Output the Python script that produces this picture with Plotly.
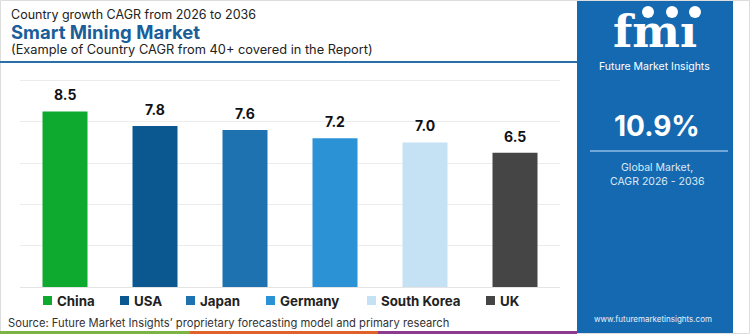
import plotly.graph_objects as go

# Country CAGR values (%), 2026-2036
countries = ["China", "USA", "Japan", "Germany", "South Korea", "UK"]
cagr = [8.5, 7.8, 7.6, 7.2, 7.0, 6.5]
bar_colors = ["#0daa2f", "#0b5890", "#1f72b0", "#2b92d6", "#c4e2f4", "#454545"]

global_cagr = "10.9%"
title_top = "Country growth CAGR from 2026 to 2036"
title_main = "Smart Mining Market"
title_sub = "(Example of Country CAGR from 40+ covered in the Report)"
source_note = "Source: Future Market Insights\u2019 proprietary forecasting model and primary research"
website = "www.futuremarketinsights.com"

W, H = 750, 334
FONT = "Inter"
PANEL = "#1569b1"


def px(x):
    return x / W


def py(y):
    return (H - y) / H


fig = go.Figure()
fig.add_trace(go.Bar(
    x=countries, y=cagr, marker=dict(color=bar_colors, line=dict(width=0)),
    width=0.5, showlegend=False, hoverinfo="x+y",
))

shapes = []
annotations = []

# right-hand brand panel
shapes.append(dict(type="rect", xref="paper", yref="paper", x0=px(577), x1=px(733),
                   y0=py(334), y1=py(0), fillcolor=PANEL, line=dict(width=0), layer="below"))
# outer frame
shapes.append(dict(type="rect", xref="paper", yref="paper", x0=px(0.5), x1=px(749.5),
                   y0=py(333.5), y1=py(0.5), line=dict(color="#dddddd", width=1),
                   fillcolor="rgba(0,0,0,0)", layer="below"))
# header rule
shapes.append(dict(type="line", xref="paper", yref="paper", x0=0, x1=px(577),
                   y0=py(62), y1=py(62), line=dict(color="#2a6fa8", width=2)))
# bottom colour strip
for c, a, b in [("#7cb342", 0, 190), ("#e0622a", 190, 378), ("#8e3a8f", 378, 577)]:
    shapes.append(dict(type="rect", xref="paper", yref="paper", x0=px(a), x1=px(b),
                       y0=py(334), y1=py(331), fillcolor=c, line=dict(width=0)))
# rule under the headline figure
shapes.append(dict(type="line", xref="paper", yref="paper", x0=px(590), x1=px(728),
                   y0=py(151), y1=py(151), line=dict(color="#8fbde6", width=1.5)))
# logo globes
for cx in [648, 672, 695]:
    shapes.append(dict(type="circle", xref="paper", yref="paper", x0=px(cx - 6), x1=px(cx + 6),
                       y0=py(18), y1=py(6), fillcolor="white", line=dict(width=0)))

# titles
annotations += [
    dict(text=title_top, x=px(9), y=py(14), font=dict(size=12.5, color="#222222", family=FONT)),
    dict(text="<b>" + title_main + "</b>", x=px(9), y=py(32),
         font=dict(size=18.5, color="#1a5e9a", family=FONT)),
    dict(text=title_sub, x=px(9), y=py(50), font=dict(size=12.8, color="#222222", family=FONT)),
    dict(text=source_note, x=px(6), y=py(323), font=dict(size=11.2, color="#333333", family=FONT)),
]
for a in annotations:
    a.update(xref="paper", yref="paper", xanchor="left", yanchor="middle", showarrow=False)

# value labels
for c, v in zip(countries, cagr):
    annotations.append(dict(x=c, y=v, xref="x", yref="y", text=f"<b>{v:.1f}</b>",
                            yanchor="bottom", yshift=6, showarrow=False,
                            font=dict(size=14, color="#111111", family=FONT)))

# legend
legend_x = [43, 120, 186, 266, 367, 486]
for c, col, lx in zip(countries, bar_colors, legend_x):
    shapes.append(dict(type="rect", xref="paper", yref="paper", x0=px(lx), x1=px(lx + 9),
                       y0=py(305), y1=py(296), fillcolor=col, line=dict(width=0)))
    annotations.append(dict(text="<b>" + c + "</b>", x=px(lx + 12), y=py(300.5),
                            xref="paper", yref="paper", xanchor="left", yanchor="middle",
                            showarrow=False, font=dict(size=13.3, color="#222222", family=FONT)))

# brand panel text
panel_text = [
    ("<b>fm\u0131</b>", 655, 32, 45, "white", "DejaVu Serif"),
    ("Future Market Insights", 654, 67, 10.5, "white", FONT),
    ("<b>" + global_cagr + "</b>", 657, 126, 28, "white", FONT),
    ("Global Market,", 657, 167, 10.5, "#dbe9f6", FONT),
    ("CAGR 2026 - 2036", 657, 181, 10.5, "#dbe9f6", FONT),
    (website, 653, 319, 8, "#e8f1fa", FONT),
]
for t, x, y, s, col, fam in panel_text:
    annotations.append(dict(text=t, x=px(x), y=py(y), xref="paper", yref="paper",
                            xanchor="center", yanchor="middle", showarrow=False,
                            font=dict(size=s, color=col, family=fam)))

fig.update_layout(
    width=W, height=H, autosize=False,
    margin=dict(l=0, r=0, t=0, b=0),
    paper_bgcolor="white", plot_bgcolor="white",
    shapes=shapes, annotations=annotations,
    xaxis=dict(domain=[px(20), px(560)], showticklabels=False, showgrid=False,
               zeroline=False, fixedrange=True),
    yaxis=dict(domain=[py(287), py(66)], range=[0, 10.7], dtick=2, showticklabels=False,
               showgrid=True, gridcolor="#ececec", gridwidth=1, zeroline=True,
               zerolinecolor="#e4e4e4", zerolinewidth=1, fixedrange=True),
    font=dict(family=FONT),
)

fig.write_html("out.html")
